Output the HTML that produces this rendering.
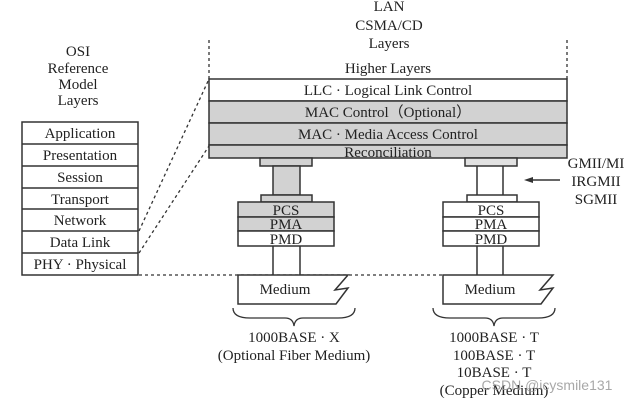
<!DOCTYPE html>
<html><head><meta charset="utf-8"><style>
html,body{margin:0;padding:0;background:#fff;}
svg{display:block;}
text{font-family:"Liberation Serif",serif;fill:#222;}
</style></head><body>
<svg width="636" height="405" viewBox="0 0 636 405" xmlns="http://www.w3.org/2000/svg">
<rect width="636" height="405" fill="#fff"/>
<g font-size="15" text-anchor="middle">
<text x="389" y="11">LAN</text>
<text x="389" y="30">CSMA/CD</text>
<text x="389" y="48">Layers</text>
<text x="78" y="56">OSI</text>
<text x="78" y="73">Reference</text>
<text x="78" y="89">Model</text>
<text x="78" y="105">Layers</text>
<text x="388" y="73">Higher Layers</text>
</g>
<g stroke="#333" stroke-width="1.3" stroke-dasharray="3,3" fill="none">
<line x1="209" y1="40" x2="209" y2="79"/>
<line x1="567" y1="40" x2="567" y2="79"/>
<line x1="139" y1="231" x2="209" y2="79"/>
<line x1="139" y1="253" x2="209" y2="146"/>
<line x1="139" y1="275" x2="443" y2="275"/>
</g>
<g stroke="#333" stroke-width="1.5">
<rect x="209" y="79" width="358" height="22" fill="#fff"/>
<rect x="209" y="101" width="358" height="22" fill="#d2d2d2"/>
<rect x="209" y="123" width="358" height="22" fill="#d2d2d2"/>
<rect x="209" y="145" width="358" height="13" fill="#d2d2d2"/>
<rect x="260" y="158" width="52" height="8" fill="#d2d2d2"/>
<rect x="273" y="166" width="27" height="29" fill="#d2d2d2"/>
<rect x="261" y="195" width="51" height="7" fill="#d2d2d2"/>
<rect x="238" y="202" width="96" height="15" fill="#d2d2d2"/>
<rect x="238" y="217" width="96" height="14" fill="#d2d2d2"/>
<rect x="238" y="231" width="96" height="15" fill="#fff"/>
<line x1="273" y1="246" x2="273" y2="275"/><line x1="300" y1="246" x2="300" y2="275"/>
<rect x="465" y="158" width="52" height="8" fill="#e2e2e2"/>
<line x1="477" y1="166" x2="477" y2="195"/><line x1="503" y1="166" x2="503" y2="195"/>
<rect x="467" y="195" width="50" height="7" fill="#fff"/>
<rect x="443" y="202" width="96" height="15" fill="#fff"/>
<rect x="443" y="217" width="96" height="14" fill="#fff"/>
<rect x="443" y="231" width="96" height="15" fill="#fff"/>
<line x1="477" y1="246" x2="477" y2="275"/><line x1="503" y1="246" x2="503" y2="275"/>
<path d="M238 275 H348 L335 290 L348 288 L336 304 H238 Z" fill="#fff"/>
<path d="M443 275 H553 L540 290 L553 288 L541 304 H443 Z" fill="#fff"/>
<rect x="22" y="122" width="116" height="153" fill="#fff"/>
<line x1="22" y1="144" x2="138" y2="144"/>
<line x1="22" y1="166" x2="138" y2="166"/>
<line x1="22" y1="188" x2="138" y2="188"/>
<line x1="22" y1="209" x2="138" y2="209"/>
<line x1="22" y1="231" x2="138" y2="231"/>
<line x1="22" y1="253" x2="138" y2="253"/>
<line x1="560" y1="180" x2="530" y2="180"/>
</g>
<polygon points="524,180 533,177 533,183" fill="#333"/>
<g fill="none" stroke="#333" stroke-width="1.3">
<path d="M233 308 Q233 318 250 318 H285 Q293 318 294 326 Q295 318 303 318 H338 Q355 318 355 308"/>
<path d="M433 308 Q433 318 450 318 H485 Q493 318 494 326 Q495 318 503 318 H538 Q555 318 555 308"/>
</g>
<g font-size="15" text-anchor="middle">
<text x="388" y="95">LLC · Logical Link Control</text>
<text x="388" y="117">MAC Control（Optional）</text>
<text x="388" y="139">MAC · Media Access Control</text>
<text x="388" y="157">Reconciliation</text>
<text x="286" y="215">PCS</text>
<text x="286" y="229">PMA</text>
<text x="286" y="244">PMD</text>
<text x="491" y="215">PCS</text>
<text x="491" y="229">PMA</text>
<text x="491" y="244">PMD</text>
<text x="285" y="294">Medium</text>
<text x="490" y="294">Medium</text>
<text x="80" y="138">Application</text>
<text x="80" y="160">Presentation</text>
<text x="80" y="182">Session</text>
<text x="80" y="204">Transport</text>
<text x="80" y="225">Network</text>
<text x="80" y="247">Data Link</text>
<text x="80" y="269">PHY · Physical</text>
<text x="596" y="168">GMII/MI</text>
<text x="596" y="186">IRGMII</text>
<text x="596" y="204">SGMII</text>
<text x="294" y="342">1000BASE · X</text>
<text x="294" y="360">(Optional Fiber Medium)</text>
<text x="494" y="342">1000BASE · T</text>
<text x="494" y="360">100BASE · T</text>
<text x="494" y="377">10BASE · T</text>
<text x="494" y="395">(Copper Medium)</text>
</g>
<text x="547" y="390" font-size="14" text-anchor="middle" style="font-family:'Liberation Sans',sans-serif;fill:#999;opacity:0.85">CSDN @icysmile131</text>
</svg>
</body></html>
